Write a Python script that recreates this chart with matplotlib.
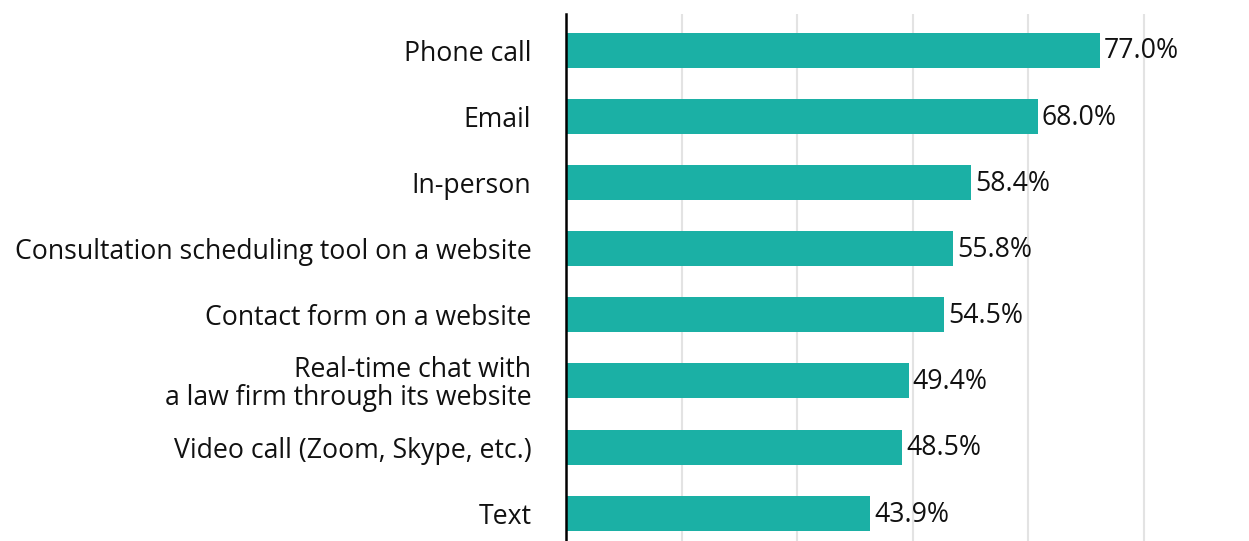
import matplotlib
matplotlib.use("Agg")
import matplotlib.pyplot as plt
from matplotlib.ticker import MultipleLocator

plt.rcParams['font.family'] = ['Open Sans', 'DejaVu Sans']

categories = [
    "Phone call",
    "Email",
    "In-person",
    "Consultation scheduling tool on a website",
    "Contact form on a website",
    "Real-time chat with\na law firm through its website",
    "Video call (Zoom, Skype, etc.)",
    "Text",
]
values = [77.0, 68.0, 58.4, 55.8, 54.5, 49.4, 48.5, 43.9]

bar_color = "#1bb0a5"
fs = 19.2

fig = plt.figure(figsize=(12.49, 5.41), dpi=100)
ax = fig.add_axes([566 / 1249, 0.0, 1 - 566 / 1249, 1 - 14 / 541])

pos = list(range(len(categories)))
ax.barh(pos, values, height=0.53, color=bar_color, zorder=3)

for p, v in zip(pos, values):
    ax.text(v + 0.6, p + 0.02, f"{v:.1f}%", va="center", ha="left",
            fontsize=fs, color="#111111", zorder=4)

ax.set_xlim(0, 98.5)
ax.set_ylim(len(categories) - 1 + 0.42, -0.545)
ax.xaxis.set_major_locator(MultipleLocator(100 / 6))
ax.grid(axis="x", color="#e3e3e3", linewidth=1.5, zorder=0)
ax.set_xticklabels([])
ax.tick_params(axis="x", length=0)

ax.set_yticks(pos)
ax.set_yticklabels(categories, fontsize=fs, color="#111111", linespacing=1.0)
ax.tick_params(axis="y", length=0, pad=25)

for side in ["top", "right", "bottom"]:
    ax.spines[side].set_visible(False)
ax.spines["left"].set_linewidth(1.8)
ax.spines["left"].set_color("#000000")
ax.spines["left"].set_zorder(5)

fig.savefig("out.png", dpi=100)
